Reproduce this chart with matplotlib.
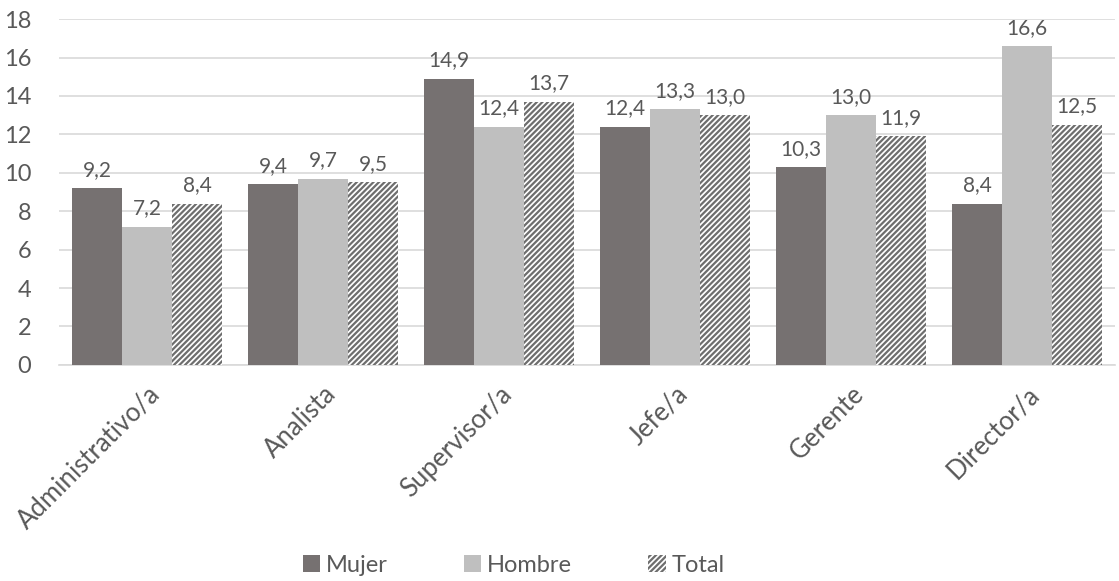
import numpy as np
import matplotlib.pyplot as plt

categories = ["Administrativo/a", "Analista", "Supervisor/a", "Jefe/a", "Gerente", "Director/a"]
mujer = [9.2, 9.4, 14.9, 12.4, 10.3, 8.4]
hombre = [7.2, 9.7, 12.4, 13.3, 13.0, 16.6]
total = [8.4, 9.5, 13.7, 13.0, 11.9, 12.5]
yticks = [0, 2, 4, 6, 8, 10, 12, 14, 16, 18]

text_color = "#595959"
plt.rcParams["font.family"] = ["Lato", "DejaVu Sans"]
plt.rcParams["hatch.linewidth"] = 1.6

fig = plt.figure(figsize=(11.19, 5.81), dpi=100)
ax = fig.add_axes([0.0527, 0.372, 0.9437, 0.595])

x = np.arange(len(categories))
w = 0.284
b1 = ax.bar(x - w, mujer, w, color="#767171", label="Mujer", zorder=3)
b2 = ax.bar(x, hombre, w, color="#bfbfbf", label="Hombre", zorder=3)
b3 = ax.bar(x + w, total, w, facecolor="white", edgecolor="#6e6e6e", linewidth=0,
            hatch="//////", label="Total", zorder=3)

for bars, vals in ((b1, mujer), (b2, hombre), (b3, total)):
    for rect, v in zip(bars, vals):
        ax.annotate(f"{v:.1f}".replace(".", ","),
                    (rect.get_x() + rect.get_width() / 2, v),
                    xytext=(0, 6), textcoords="offset points",
                    ha="center", va="bottom", fontsize=15, color=text_color)

ax.set_xlim(-0.5, len(categories) - 0.5)
ax.set_ylim(0, 18)
ax.set_yticks(yticks)
ax.set_yticklabels([str(t) for t in yticks], fontsize=17, color=text_color)
ax.set_xticks(x)
ax.set_xticklabels(categories, rotation=45, ha="right", rotation_mode="anchor",
                   fontsize=18.5, color=text_color)
ax.tick_params(axis="x", length=0, pad=12)
ax.tick_params(axis="y", length=0, pad=20)
ax.yaxis.grid(True, color="#d9d9d9", linewidth=1.2, zorder=0)
for side in ("top", "right", "left"):
    ax.spines[side].set_visible(False)
ax.spines["bottom"].set_color("#d9d9d9")
ax.spines["bottom"].set_linewidth(1.2)

fig.legend(handles=[b1, b2, b3], loc="center", bbox_to_anchor=(0.459, 0.027),
           ncol=3, frameon=False, fontsize=17, labelcolor=text_color,
           handlelength=0.75, handleheight=0.75, handletextpad=0.25, columnspacing=3.2)

fig.savefig("out.png", dpi=100)
